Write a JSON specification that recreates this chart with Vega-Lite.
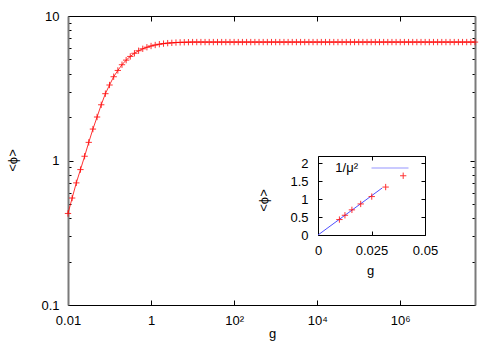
{
  "$schema": "https://vega.github.io/schema/vega-lite/v6.json",
  "width": 407,
  "height": 289,
  "autosize": {"type": "none"},
  "padding": {"left": 68, "top": 16, "right": 25, "bottom": 45},
  "background": "white",
  "config": {
    "font": "Liberation Sans",
    "view": {"stroke": null},
    "axis": {
      "domainColor": "black", "tickColor": "black", "labelColor": "black", "titleColor": "black",
      "labelFontSize": 13, "titleFontSize": 13, "titleFontWeight": "normal",
      "labelFont": "Liberation Sans", "titleFont": "Liberation Sans",
      "grid": false, "labelFlush": false, "labelOverlap": false, "labelBound": false,
      "titleAlign": "center", "titleBaseline": "middle"
    },
    "legend": {"labelFont": "Liberation Sans", "labelFontSize": 13, "labelColor": "black"}
  },
  "datasets": {
    "main": [
      {"g": 0.01, "phi": 0.43}, {"g": 0.012589, "phi": 0.55}, {"g": 0.015849, "phi": 0.70}, {"g": 0.019953, "phi": 0.865},
      {"g": 0.025119, "phi": 1.07}, {"g": 0.031623, "phi": 1.335}, {"g": 0.039811, "phi": 1.65}, {"g": 0.050119, "phi": 2.0},
      {"g": 0.063096, "phi": 2.43}, {"g": 0.079433, "phi": 2.9}, {"g": 0.1, "phi": 3.33}, {"g": 0.12589, "phi": 3.8},
      {"g": 0.15849, "phi": 4.2}, {"g": 0.19953, "phi": 4.6}, {"g": 0.25119, "phi": 4.95}, {"g": 0.31623, "phi": 5.25},
      {"g": 0.39811, "phi": 5.52}, {"g": 0.50119, "phi": 5.75}, {"g": 0.63096, "phi": 5.93}, {"g": 0.79433, "phi": 6.08},
      {"g": 1, "phi": 6.2}, {"g": 1.2589, "phi": 6.3}, {"g": 1.5849, "phi": 6.38}, {"g": 1.9953, "phi": 6.44},
      {"g": 2.5119, "phi": 6.49}, {"g": 3.1623, "phi": 6.52}, {"g": 3.9811, "phi": 6.55}, {"g": 5.0119, "phi": 6.57},
      {"g": 6.3096, "phi": 6.58}, {"g": 7.9433, "phi": 6.59},
      {"g": 10, "phi": 6.6}, {"g": 12.589, "phi": 6.6}, {"g": 15.849, "phi": 6.6}, {"g": 19.953, "phi": 6.6}, {"g": 25.119, "phi": 6.6},
      {"g": 31.623, "phi": 6.6}, {"g": 39.811, "phi": 6.6}, {"g": 50.119, "phi": 6.6}, {"g": 63.096, "phi": 6.6}, {"g": 79.433, "phi": 6.6},
      {"g": 100, "phi": 6.6}, {"g": 125.89, "phi": 6.6}, {"g": 158.49, "phi": 6.6}, {"g": 199.53, "phi": 6.6}, {"g": 251.19, "phi": 6.6},
      {"g": 316.23, "phi": 6.6}, {"g": 398.11, "phi": 6.6}, {"g": 501.19, "phi": 6.6}, {"g": 630.96, "phi": 6.6}, {"g": 794.33, "phi": 6.6},
      {"g": 1000, "phi": 6.6}, {"g": 1258.9, "phi": 6.6}, {"g": 1584.9, "phi": 6.6}, {"g": 1995.3, "phi": 6.6}, {"g": 2511.9, "phi": 6.6},
      {"g": 3162.3, "phi": 6.6}, {"g": 3981.1, "phi": 6.6}, {"g": 5011.9, "phi": 6.6}, {"g": 6309.6, "phi": 6.6}, {"g": 7943.3, "phi": 6.6},
      {"g": 10000, "phi": 6.6}, {"g": 12589, "phi": 6.6}, {"g": 15849, "phi": 6.6}, {"g": 19953, "phi": 6.6}, {"g": 25119, "phi": 6.6},
      {"g": 31623, "phi": 6.6}, {"g": 39811, "phi": 6.6}, {"g": 50119, "phi": 6.6}, {"g": 63096, "phi": 6.6}, {"g": 79433, "phi": 6.6},
      {"g": 100000, "phi": 6.6}, {"g": 125893, "phi": 6.6}, {"g": 158489, "phi": 6.6}, {"g": 199526, "phi": 6.6}, {"g": 251189, "phi": 6.6},
      {"g": 316228, "phi": 6.6}, {"g": 398107, "phi": 6.6}, {"g": 501187, "phi": 6.6}, {"g": 630957, "phi": 6.6}, {"g": 794328, "phi": 6.6},
      {"g": 1000000, "phi": 6.6}, {"g": 1258925, "phi": 6.6}, {"g": 1584893, "phi": 6.6}, {"g": 1995262, "phi": 6.6}, {"g": 2511886, "phi": 6.6},
      {"g": 3162278, "phi": 6.6}, {"g": 3981072, "phi": 6.6}, {"g": 5011872, "phi": 6.6}, {"g": 6309573, "phi": 6.6}, {"g": 7943282, "phi": 6.6},
      {"g": 10000000, "phi": 6.6}, {"g": 12589254, "phi": 6.6}, {"g": 15848932, "phi": 6.6}, {"g": 19952623, "phi": 6.6}, {"g": 25118864, "phi": 6.6},
      {"g": 31622777, "phi": 6.6}, {"g": 39810717, "phi": 6.6}, {"g": 50118723, "phi": 6.6}, {"g": 63095734, "phi": 6.6}
    ],
    "mu": [
      {"g": 0, "phi": 0, "series": "1/μ²"},
      {"g": 0.01, "phi": 0.437, "series": "1/μ²"},
      {"g": 0.02, "phi": 0.873, "series": "1/μ²"},
      {"g": 0.03, "phi": 1.31, "series": "1/μ²"}
    ]
  },
  "layer": [
    {
      "data": {"name": "main"},
      "layer": [
        {
          "mark": {"type": "line", "color": "#ff0000", "strokeWidth": 1, "opacity": 0.8},
          "encoding": {
            "x": {"field": "g", "type": "quantitative",
              "scale": {"type": "log", "domain": [0.01, 63095734], "nice": false},
              "axis": {"orient": "bottom", "values": [0.01, 1, 100, 10000, 1000000],
                "labelExpr": "datum.value == 0.01 ? '0.01' : datum.value == 1 ? '1' : datum.value == 100 ? '10²' : datum.value == 10000 ? '10⁴' : '10⁶'",
                "tickSize": -5, "labelPadding": 14, "title": "g", "titleX": 204, "titleY": 28}},
            "y": {"field": "phi", "type": "quantitative",
              "scale": {"type": "log", "domain": [0.1, 10], "nice": false},
              "axis": {"orient": "left", "values": [0.1, 0.2, 0.3, 0.4, 0.5, 0.6, 0.7, 0.8, 0.9, 1, 2, 3, 4, 5, 6, 7, 8, 9, 10],
                "labelExpr": "datum.value == 0.1 ? '0.1' : datum.value == 1 ? '1' : datum.value == 10 ? '10' : ''",
                "tickSize": {"condition": {"test": "datum.value == 0.1 || datum.value == 1 || datum.value == 10", "value": -5}, "value": -3},
                "domainColor": "#7a7a7a", "domainWidth": 2,
                "labelPadding": 14, "title": "<ϕ>", "titleX": -56, "titleY": 144, "titleAngle": -90}}
          }
        },
        {
          "mark": {"type": "point", "shape": "M-1,0H1M0,-1V1", "filled": false, "color": "#ff0000", "size": 40, "strokeWidth": 1, "opacity": 0.8},
          "encoding": {
            "x": {"field": "g", "type": "quantitative",
              "axis": {"orient": "top", "values": [0.01, 1, 100, 10000, 1000000], "labels": false, "tickSize": -5, "title": null}},
            "y": {"field": "phi", "type": "quantitative",
              "axis": {"orient": "right", "values": [0.1, 0.2, 0.3, 0.4, 0.5, 0.6, 0.7, 0.8, 0.9, 1, 2, 3, 4, 5, 6, 7, 8, 9, 10],
                "labels": false, "domainColor": "#7a7a7a", "domainWidth": 2,
                "tickSize": {"condition": {"test": "datum.value == 0.1 || datum.value == 1 || datum.value == 10", "value": -5}, "value": -3},
                "title": null}}
          }
        }
      ],
      "resolve": {"axis": {"x": "independent", "y": "independent"}}
    },
    {
      "layer": [
        {
          "data": {"name": "mu"},
          "mark": {"type": "line", "strokeWidth": 1},
          "encoding": {
            "x": {"field": "g", "type": "quantitative",
              "scale": {"domain": [0, 0.05], "range": [250, 357], "nice": false, "zero": false},
              "axis": {"orient": "bottom", "offset": -70, "values": [0, 0.025, 0.05], "labelExpr": "'' + datum.value",
                "tickSize": -4, "labelPadding": 13, "title": "g", "titleX": 302, "titleY": 35}},
            "y": {"field": "phi", "type": "quantitative",
              "scale": {"domain": [0, 2.2], "range": [219, 140], "nice": false, "zero": false},
              "axis": {"orient": "left", "offset": -250, "values": [0, 0.5, 1, 1.5, 2], "labelExpr": "'' + datum.value",
                "tickSize": -4, "labelPadding": 14, "title": "<ϕ>", "titleX": -55, "titleY": 184, "titleAngle": -90}},
            "color": {"field": "series", "type": "nominal",
              "scale": {"range": ["#5050ff"]},
              "legend": {"orient": "none", "legendX": 303, "legendY": 133, "title": null,
                "symbolType": "stroke", "symbolSize": 1369, "symbolStrokeWidth": 1, "symbolOpacity": 0.6,
                "labelAlign": "right", "labelOffset": -51, "padding": 0, "offset": 0}}
          }
        },
        {
          "data": {"name": "main"},
          "transform": [{"filter": "datum.g <= 0.05"}],
          "mark": {"type": "point", "shape": "M-1,0H1M0,-1V1", "filled": false, "color": "#ff0000", "size": 40, "strokeWidth": 1, "opacity": 0.8},
          "encoding": {
            "x": {"field": "g", "type": "quantitative",
              "axis": {"orient": "top", "offset": -140, "values": [0, 0.025, 0.05], "labels": false, "tickSize": -4, "title": null}},
            "y": {"field": "phi", "type": "quantitative",
              "axis": {"orient": "right", "offset": -50, "values": [0, 0.5, 1, 1.5, 2], "labels": false, "tickSize": -4, "title": null}}
          }
        }
      ],
      "resolve": {"axis": {"x": "independent", "y": "independent"}}
    }
  ],
  "resolve": {"scale": {"x": "independent", "y": "independent", "color": "independent"}}
}
